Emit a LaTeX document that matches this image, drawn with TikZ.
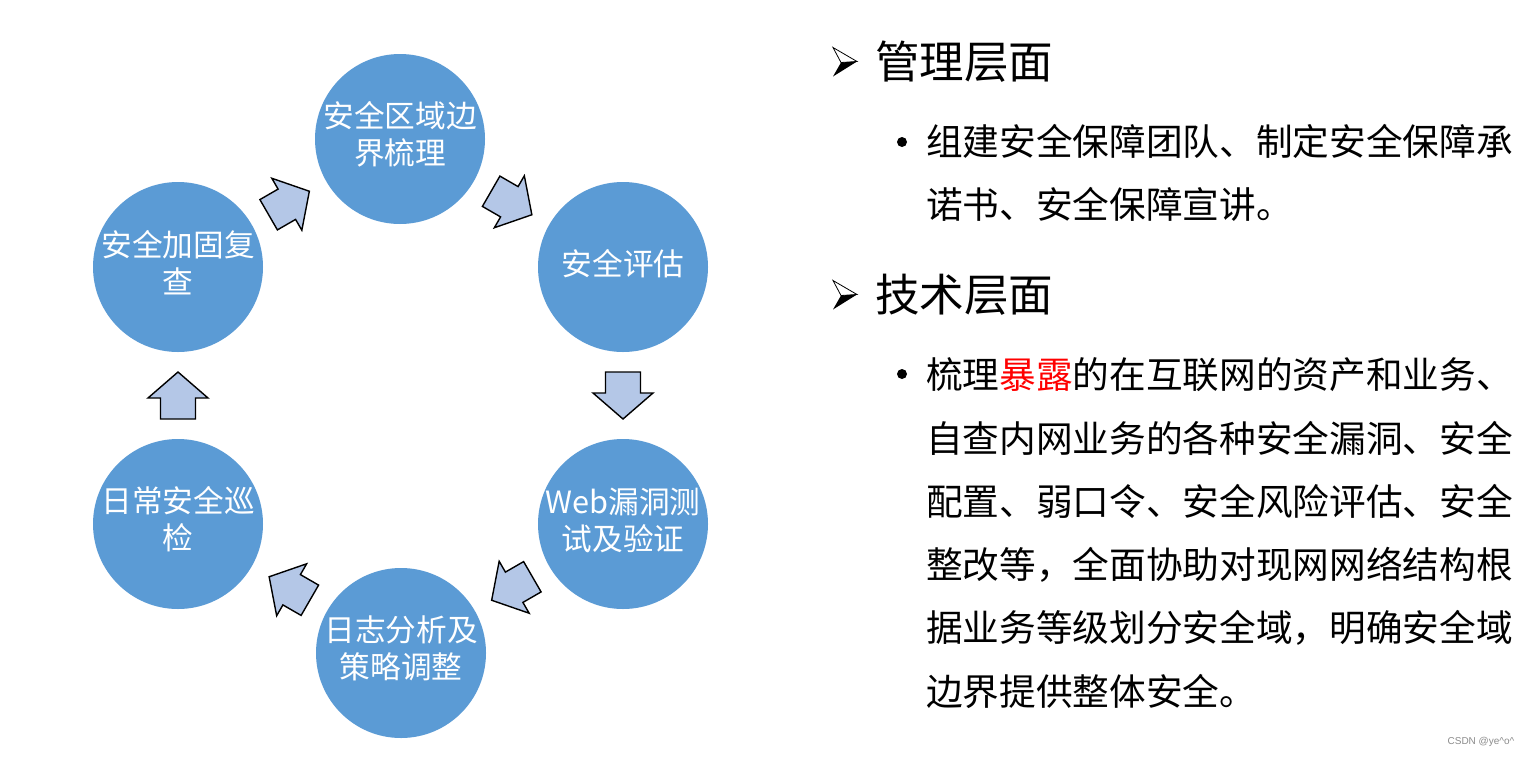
\documentclass[tikz,border=0pt]{standalone}
\usepackage{fontspec}
\setmainfont{Noto Sans CJK SC}
\newfontfamily\wmfont{Liberation Sans}
\usetikzlibrary{calc}
\definecolor{cblue}{HTML}{5B9BD5}
\definecolor{ablue}{HTML}{B4C7E7}
\definecolor{wmgray}{HTML}{8C8C8C}
\tikzset{
  stage/.style={circle, fill=cblue, minimum size=127.5pt, inner sep=0pt},
  stagetext/.style={text=white, align=center, inner sep=0pt, font=\fontsize{23}{27.75}\selectfont},
  blockarrow/.style={draw=black, fill=ablue, line width=1.05pt, line join=miter},
  barrow/.pic={\draw[blockarrow] (-23.5,-17.5) -- (-2.5,-17.5) -- (-2.5,-30) -- (23.5,0) -- (-2.5,30) -- (-2.5,17.5) -- (-23.5,17.5) -- cycle;},
  headbullet/.pic={
    \filldraw[fill=white, draw=black, line width=0.6pt, line join=miter] (-12,-14.5) -- (12,-0.5) -- (-4,0.5) -- cycle;
    \fill[black] (-4,0.5) -- (-12,14.5) -- (12,-0.5) -- cycle;},
  heading/.style={anchor=west, inner sep=0pt, font=\fontsize{33.4}{40}\selectfont},
  body/.style={anchor=west, inner sep=0pt, font=\fontsize{27.5}{33}\selectfont},
  dotbullet/.style={circle, fill=black, inner sep=0pt, minimum size=7.5pt},
  watermark/.style={inner sep=0pt, text=wmgray, font=\wmfont\fontsize{7.5}{9}\selectfont}
}
\begin{document}
\begin{tikzpicture}[x=0.75pt,y=-0.75pt]
\path[use as bounding box, fill=white] (0,0) rectangle (1530,757);

% cycle of stages
\node[stage] (c1) at (400,139) {};
\node[stage] (c2) at (623,267) {};
\node[stage] (c3) at (623,524) {};
\node[stage] (c4) at (401,653) {};
\node[stage] (c5) at (178,524) {};
\node[stage] (c6) at (178,267) {};

\node[stagetext] (t1) at ($(c1)+(0,-5)$) {安全区域边\\界梳理};
\node[stagetext] (t2) at ($(c2)+(0,-3)$) {安全评估};
\node[stagetext] (t3) at ($(c3)+(0,-4)$) {Web漏洞测\\试及验证};
\node[stagetext] (t4) at ($(c4)+(0,-5)$) {日志分析及\\策略调整};
\node[stagetext] (t5) at ($(c5)+(0,-5)$) {日常安全巡\\检};
\node[stagetext] (t6) at ($(c6)+(0,-4)$) {安全加固复\\查};

% block arrows between stages
\pic[rotate=30] at ($(c6)!0.5!(c1)$) {barrow};
\pic[rotate=-30] at ($(c1)!0.5!(c2)$) {barrow};
\pic[rotate=-90] at ($(c2)!0.5!(c3)$) {barrow};
\pic[rotate=-150] at ($(c3)!0.5!(c4)$) {barrow};
\pic[rotate=150] at ($(c4)!0.5!(c5)$) {barrow};
\pic[rotate=90] at ($(c5)!0.5!(c6)$) {barrow};

% right text
\pic at (845,62) {headbullet};
\node[heading] (h1) at (875,62) {管理层面};
\node[dotbullet] (b1) at (902,142) {};
\node[body] (p1a) at (926,141) {组建安全保障团队、制定安全保障承};
\node[body] (p1b) at (926,204) {诺书、安全保障宣讲。};

\pic at (845,295) {headbullet};
\node[heading] (h2) at (875,295) {技术层面};
\node[dotbullet] (b2) at (902,374) {};
\node[body] (p2a) at (926,375) {梳理\textcolor{red}{暴露}的在互联网的资产和业务、};
\node[body] (p2b) at (926,438.2) {自查内网业务的各种安全漏洞、安全};
\node[body] (p2c) at (926,501.4) {配置、弱口令、安全风险评估、安全};
\node[body] (p2d) at (926,564.6) {整改等，全面协助对现网网络结构根};
\node[body] (p2e) at (926,627.8) {据业务等级划分安全域，明确安全域};
\node[body] (p2f) at (926,691) {边界提供整体安全。};

\node[watermark] (wm) at (1481,742) {CSDN @ye\^{}o\^{}};
\end{tikzpicture}
\end{document}
